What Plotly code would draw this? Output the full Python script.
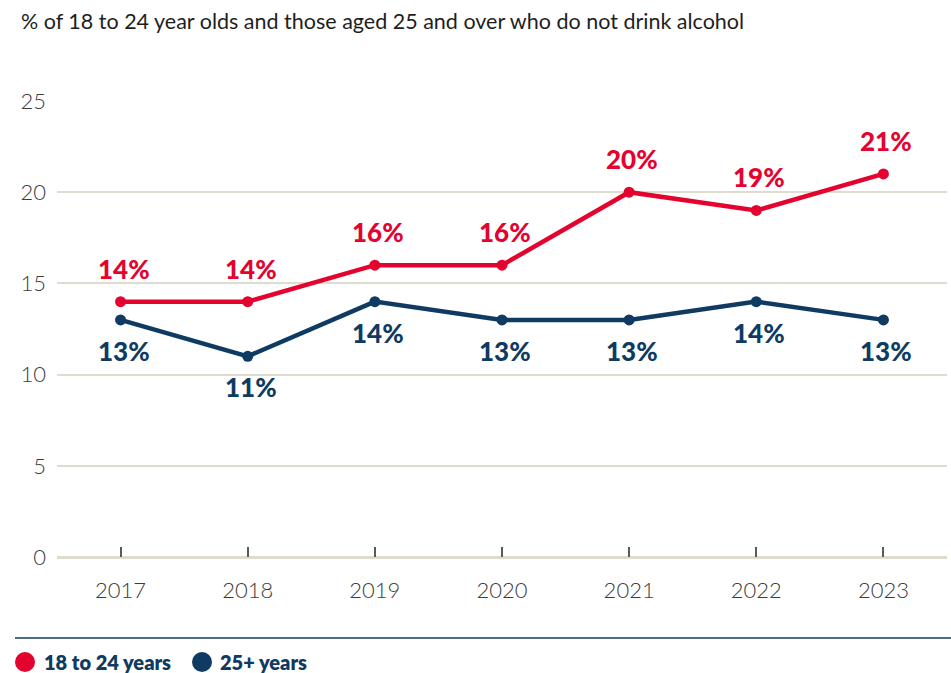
import plotly.graph_objects as go

# Share of adults who do not drink alcohol, by age group
years = ["2017", "2018", "2019", "2020", "2021", "2022", "2023"]
young = [14, 14, 16, 16, 20, 19, 21]      # 18 to 24 years
older = [13, 11, 14, 13, 13, 14, 13]      # 25+ years
y_ticks = [0, 5, 10, 15, 20, 25]

RED = "#e4032e"
NAVY = "#0f3b63"
GRID = "#dedccd"
TXT = "#3c3c3c"
FONT = "Lato"

fig = go.Figure()
for vals, col, name in [(young, RED, "18 to 24 years"), (older, NAVY, "25+ years")]:
    fig.add_trace(go.Scatter(
        x=years, y=vals, mode="lines+markers", name=name,
        line=dict(color=col, width=4.5),
        marker=dict(color=col, size=11),
        cliponaxis=False, showlegend=False,
    ))

# value labels: above the red line, below the navy line
annotations = []
for vals, col, shift in [(young, RED, 33), (older, NAVY, -31)]:
    for i, v in enumerate(vals):
        annotations.append(dict(
            x=i, y=v, text=f"{v}%", showarrow=False, xshift=3, yshift=shift,
            font=dict(family=FONT, size=26, color=col, weight=900),
            xanchor="center", yanchor="middle",
        ))

# custom legend under a divider line
PLOT_L, PLOT_W, PLOT_B, PLOT_H = 57, 890, 557, 456
def px(xp):
    return (xp - PLOT_L) / PLOT_W
def py(yp):
    return (PLOT_B - yp) / PLOT_H

# title
annotations.append(dict(
    xref="paper", yref="paper", x=px(19), y=py(21), xanchor="left", yanchor="middle",
    text="% of 18 to 24 year olds and those aged 25 and over who do not drink alcohol",
    showarrow=False, font=dict(family=FONT, size=21.5, color="#1e1e1e"),
))

shapes = [dict(type="line", xref="paper", yref="paper",
               x0=px(15), x1=px(951), y0=py(638), y1=py(638),
               line=dict(color="#4d6a87", width=2))]
legend_items = [("18 to 24 years", RED, 25, 42), ("25+ years", NAVY, 202, 218)]
for label, col, cx, tx in legend_items:
    shapes.append(dict(type="circle", xref="paper", yref="paper",
                       x0=px(cx - 10), x1=px(cx + 10), y0=py(672), y1=py(652),
                       fillcolor=col, line=dict(width=0)))
    annotations.append(dict(xref="paper", yref="paper", x=px(tx), y=py(662),
                            xanchor="left", yanchor="middle", showarrow=False,
                            text=label, font=dict(family=FONT, size=20, color=NAVY, weight=800)))

fig.update_layout(
    width=951, height=673,
    margin=dict(l=PLOT_L, r=951 - PLOT_L - PLOT_W, t=101, b=673 - PLOT_B),
    paper_bgcolor="white", plot_bgcolor="white",
    annotations=annotations, shapes=shapes,
    xaxis=dict(
        type="category", range=[-0.5, 6.5], showgrid=False, showline=False, zeroline=False,
        ticks="inside", ticklen=10, tickwidth=2, tickcolor="#5a5a5a",
        tickfont=dict(family=FONT, size=22, color=TXT, weight=300),
        ticklabelstandoff=18,
    ),
    yaxis=dict(
        range=[0, 25], tickvals=y_ticks, showgrid=True, gridcolor=GRID, gridwidth=2,
        zeroline=True, zerolinecolor=GRID, zerolinewidth=3, showline=False,
        tickfont=dict(family=FONT, size=22, color=TXT, weight=300),
        ticklabelstandoff=10,
    ),
)

fig.write_html("out.html")
